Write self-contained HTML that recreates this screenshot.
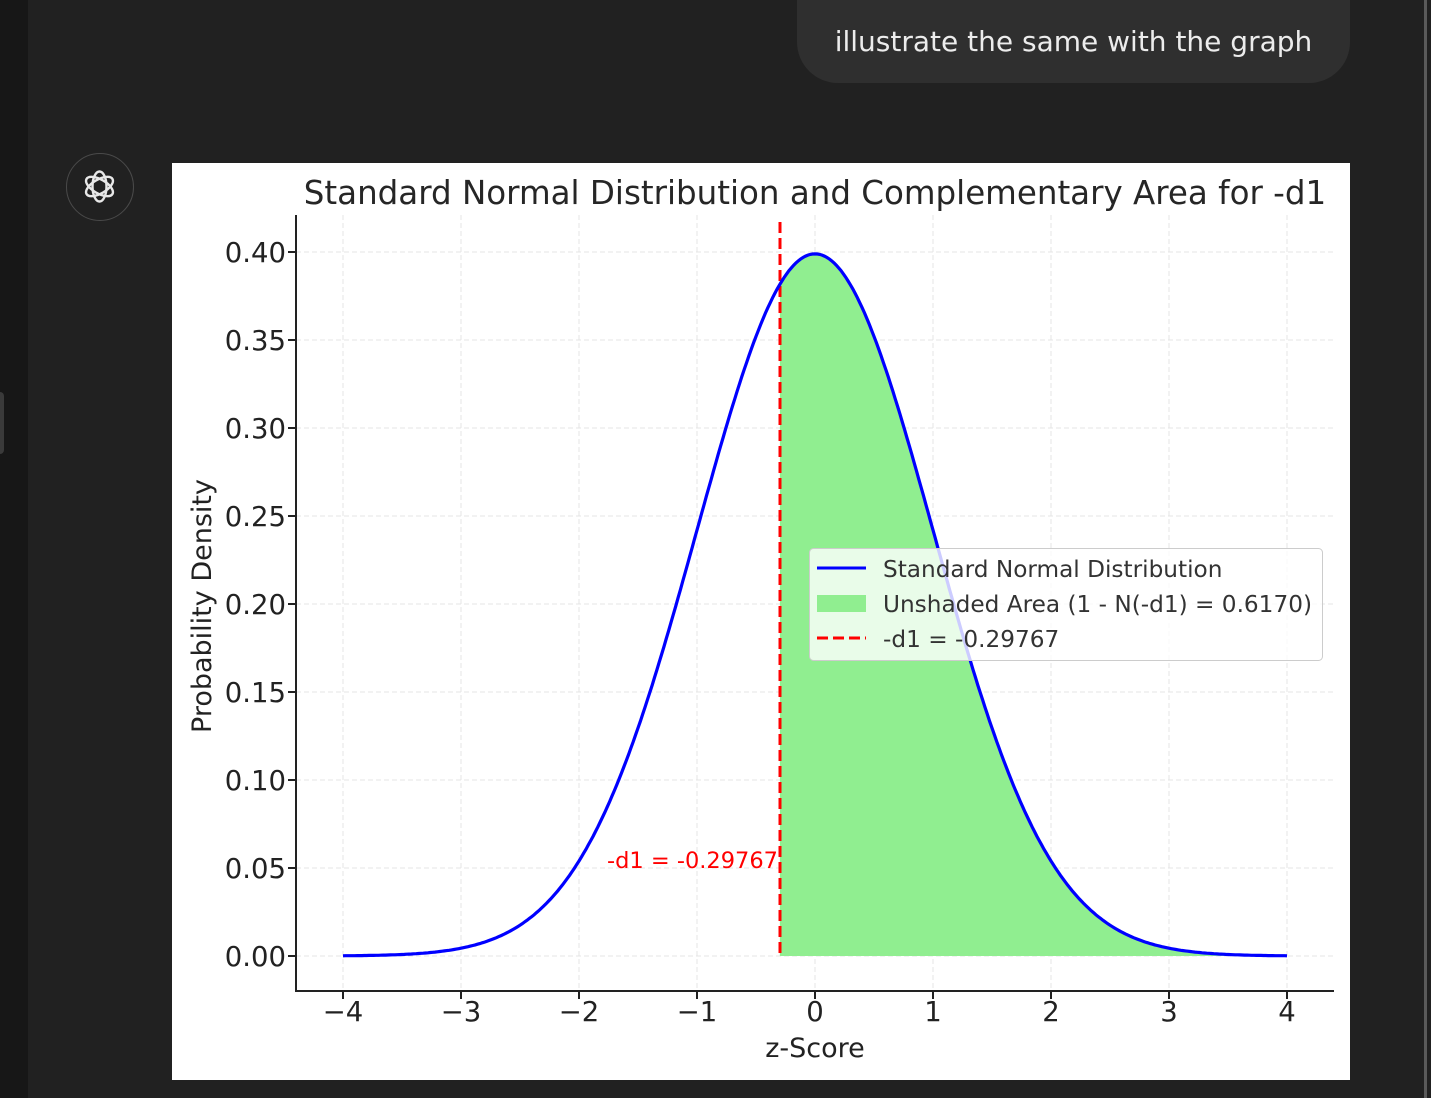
<!DOCTYPE html>
<html><head><meta charset="utf-8"><style>
body{margin:0;width:1431px;height:1098px;background:#212121;overflow:hidden;position:relative;font-family:"DejaVu Sans","Liberation Sans",sans-serif}
#side{position:absolute;left:0;top:0;width:28px;height:1098px;background:#171717}
#tab{position:absolute;left:0;top:392px;width:4px;height:62px;background:#3a3a3a;border-radius:0 4px 4px 0}
#rl{position:absolute;left:1424px;top:0;width:3px;height:1098px;background:#5a5a5a}
#bub{position:absolute;left:797px;top:0;width:553px;height:83px;background:#2f2f2f;border-radius:0 0 41px 41px;color:#ececec;font-size:28px;line-height:84px;text-align:center;font-family:"DejaVu Sans","Liberation Sans",sans-serif}
#ic{position:absolute;left:66px;top:153px;width:68px;height:68px;border:1.5px solid #4a4a4a;border-radius:50%;box-sizing:border-box}
</style></head><body>
<div id="side"></div><div id="tab"></div><div id="rl"></div>
<div id="bub">illustrate the same with the graph</div>
<div id="ic"><svg width="65" height="65" viewBox="0 0 65 65"><g fill="none" stroke="#e8e8e8" stroke-width="2.4">
<ellipse cx="32.5" cy="32.5" rx="7" ry="15"/>
<ellipse cx="32.5" cy="32.5" rx="7" ry="15" transform="rotate(60 32.5 32.5)"/>
<ellipse cx="32.5" cy="32.5" rx="7" ry="15" transform="rotate(120 32.5 32.5)"/></g></svg></div>
<svg style="position:absolute;left:0;top:0" width="1431" height="1098" id="s">
<rect x="172" y="163" width="1178" height="917" fill="#fff"/>
<g id="grid" stroke="#e4e4e4" stroke-width="1" stroke-dasharray="5,3"></g>
<path id="fill" fill="#90ee90"/>
<line x1="780" y1="222" x2="780" y2="956" stroke="#ff0000" stroke-width="3" stroke-dasharray="11,5"/>
<path id="curve" fill="none" stroke="#0000ff" stroke-width="3.2"/>
<line x1="296" y1="215" x2="296" y2="992" stroke="#222" stroke-width="2"/>
<line x1="295" y1="991" x2="1334" y2="991" stroke="#222" stroke-width="2"/>
<g id="ticks" font-size="27.5" fill="#222"></g>
<text x="815" y="204" font-size="32.5" text-anchor="middle" fill="#262626">Standard Normal Distribution and Complementary Area for -d1</text>
<text x="815" y="1057" font-size="27" text-anchor="middle" fill="#222">z-Score</text>
<text transform="translate(211,606) rotate(-90)" font-size="27" text-anchor="middle" fill="#222">Probability Density</text>
<text x="778" y="868" font-size="22.5" text-anchor="end" fill="#ff0000">-d1 = -0.29767</text>
<rect x="809.5" y="548.5" width="513" height="112" rx="4" fill="#fff" fill-opacity="0.8" stroke="#ccc"/>
<line x1="817" y1="568" x2="866" y2="568" stroke="#0000ff" stroke-width="3"/>
<rect x="817" y="595" width="49" height="17" fill="#90ee90"/>
<line x1="817" y1="638" x2="866" y2="638" stroke="#ff0000" stroke-width="3" stroke-dasharray="11,5"/>
<g font-size="23.2" fill="#333"><text x="883" y="577">Standard Normal Distribution</text><text x="883" y="612">Unshaded Area (1 - N(-d1) = 0.6170)</text><text x="883" y="647">-d1 = -0.29767</text></g>
</svg>
<script>
var X=function(v){return 815+118*v},Y=function(v){return 956-1760*v};
var g=document.getElementById('grid'),t=document.getElementById('ticks'),ns='http://www.w3.org/2000/svg';
function el(p,n,a,txt){var e=document.createElementNS(ns,n);for(var k in a)e.setAttribute(k,a[k]);if(txt)e.textContent=txt;p.appendChild(e);}
for(var i=-4;i<=4;i++){var x=X(i);el(g,'line',{x1:x,y1:215,x2:x,y2:991});el(t,'line',{x1:x,y1:991,x2:x,y2:999,stroke:'#222','stroke-width':2});el(t,'text',{x:x,y:1021,'text-anchor':'middle'},(i<0?'\u2212'+(-i):''+i));}
for(var j=0;j<=8;j++){var v=j*0.05,y=Y(v);el(g,'line',{x1:296,y1:y,x2:1333,y2:y});el(t,'line',{x1:288,y1:y,x2:296,y2:y,stroke:'#222','stroke-width':2});el(t,'text',{x:286,y:y+10,'text-anchor':'end'},v.toFixed(2));}
function f(z){return Math.exp(-z*z/2)/Math.sqrt(2*Math.PI)}
var d='';for(var z=-4;z<=4.0001;z+=0.02)d+=(d?'L':'M')+X(z).toFixed(1)+','+Y(f(z)).toFixed(1);
document.getElementById('curve').setAttribute('d',d);
var a='M'+X(-0.29767)+','+Y(0);for(z=-0.29767;z<=4.0001;z+=0.02)a+='L'+X(z).toFixed(1)+','+Y(f(z)).toFixed(1);a+='L'+X(4)+','+Y(0)+'Z';
document.getElementById('fill').setAttribute('d',a);
</script>
</body></html>
